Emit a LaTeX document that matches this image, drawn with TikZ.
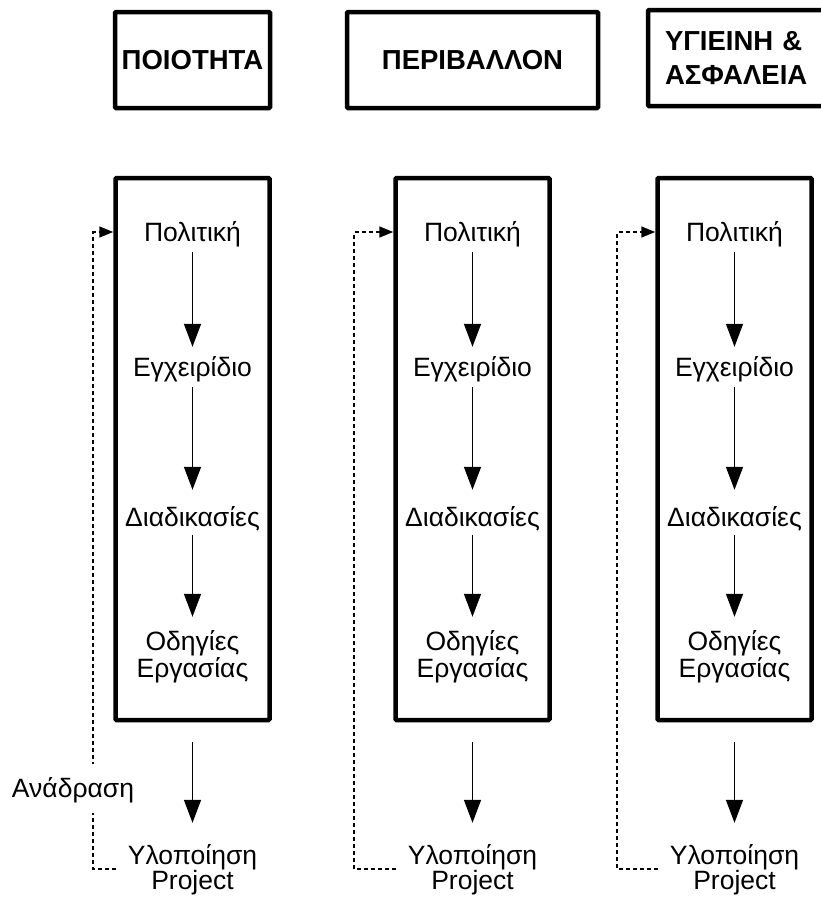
\documentclass[tikz,border=0pt]{standalone}
\usepackage{fontspec}
\setmainfont{Liberation Sans}
\usetikzlibrary{arrows.meta}
\begin{document}
\begin{tikzpicture}[x=1pt,y=-1pt,
  frame/.style={draw, line width=4.5pt, rounded corners=1pt, inner sep=0pt},
  title/.style={frame, font=\bfseries\fontsize{27.5}{34}\selectfont, minimum height=96pt},
  column/.style={frame, minimum width=154pt, minimum height=542pt},
  lbl/.style={inner sep=0pt, text height=25pt, text depth=6pt, font=\fontsize{26.5}{27}\selectfont},
  flow/.style={line width=1.5pt, -{Triangle[width=17pt,length=23pt]}},
  fb/.style={line width=1.5pt, dash pattern=on 4pt off 3pt, -{Triangle[width=11pt,length=14pt]}},
]
\useasboundingbox (0,0) rectangle (821,897);
\clip (0,0) rectangle (821,897);

% headings of the three management systems
\node[title, minimum width=155pt] (t1) at (192.5,60) {ΠΟΙΟΤΗΤΑ};
\node[title, minimum width=251pt] (t2) at (472.5,60) {ΠΕΡΙΒΑΛΛΟΝ};
\node[title, text width=150pt, inner xsep=17pt, align=left] (t3) at (740,58) {ΥΓΙΕΙΝΗ \&\\ΑΣΦΑΛΕΙΑ};

% one documentation column per system
\foreach \i/\x/\fx in {1/192.5/93, 2/472.5/354, 3/734.5/617} {
  \node[column] (box\i) at (\x,449) {};
  \node[lbl] (pol\i) at (\x,232) {Πολιτική};
  \node[lbl] (egx\i) at (\x,367) {Εγχειρίδιο};
  \node[lbl] (dia\i) at (\x,517) {Διαδικασίες};
  \node[lbl] (odA\i) at (\x,641) {Οδηγίες};
  \node[lbl] (odB\i) at (\x,668) {Εργασίας};
  \node[lbl] (upl\i) at (\x,855) {Υλοποίηση};
  \node[lbl] (prj\i) at (\x,880) {Project};

  \draw[flow, shorten <=4.5pt, shorten >=4.5pt] (pol\i) -- (egx\i);
  \draw[flow, shorten <=4.5pt, shorten >=11.5pt] (egx\i) -- (dia\i);
  \draw[flow, shorten <=2.5pt, shorten >=8.5pt] (dia\i) -- (odA\i);
  \draw[flow, shorten <=20pt, shorten >=16.5pt] (box\i) -- (upl\i);

  % feedback loop from implementation back to policy
  \coordinate (fbs\i) at ({\x-77},869);
  \coordinate (fbc\i) at (\fx,232);
  \draw[fb] (fbs\i) -- (fbs\i -| fbc\i) -- (fbc\i) -- (box\i.west |- fbc\i);
}

\node[lbl, fill=white, inner ysep=9pt, inner xsep=2pt] (fbl) at (73,788) {Ανάδραση};
\end{tikzpicture}
\end{document}
